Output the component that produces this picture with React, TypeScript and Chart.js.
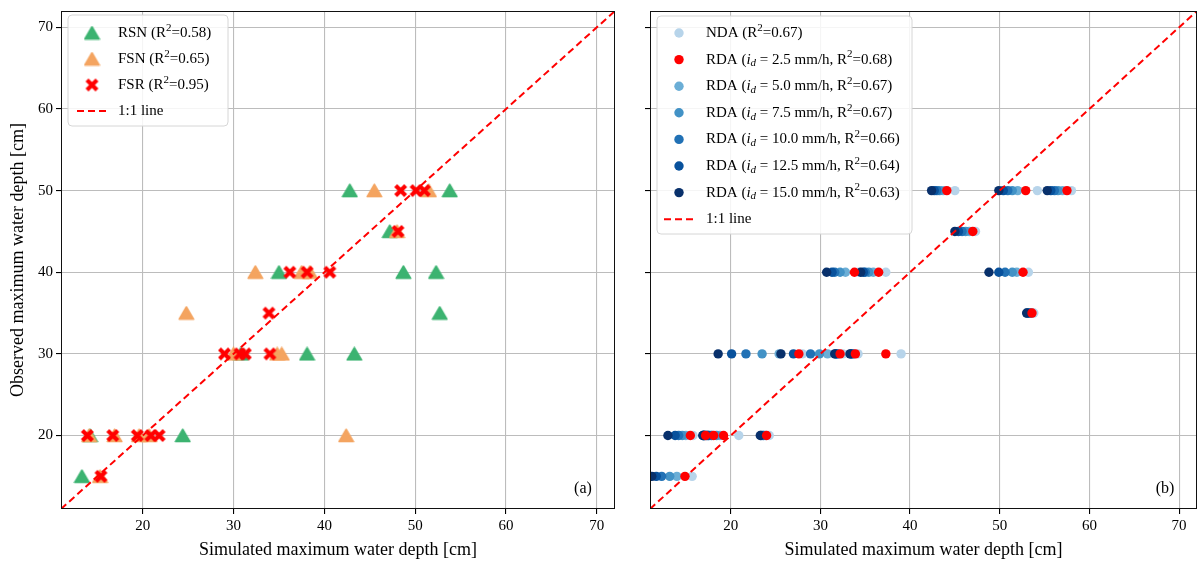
import { useEffect, useRef } from "react";
import { Chart, registerables } from "chart.js";

Chart.register(...registerables);

const FONT = "'Liberation Serif', 'Times New Roman', Times, serif";
const AXIS_MIN = 11;
const AXIS_MAX = 72;
const TICK_VALUES = [20, 30, 40, 50, 60, 70];
const X_TITLE = "Simulated maximum water depth [cm]";
const Y_TITLE = "Observed maximum water depth [cm]";

// ---------- Panel (a) ----------
const RSN_X = [13.3, 14.2, 24.4, 30.8, 38.1, 43.3, 52.7, 35.0, 48.7, 52.3, 47.2, 42.8, 53.8];
const RSN_Y = [15, 20, 20, 30, 30, 30, 35, 40, 40, 40, 45, 50, 50];
const FSN_X = [15.3, 14.1, 16.9, 19.6, 20.7, 42.4, 30.0, 34.8, 35.3, 24.8, 32.4, 37.5, 38.4, 48.0, 45.5, 51.5];
const FSN_Y = [15, 20, 20, 20, 20, 20, 30, 30, 30, 35, 40, 40, 40, 45, 50, 50];
const FSR_X = [15.4, 13.9, 16.7, 19.4, 20.9, 21.8, 29.0, 30.7, 31.3, 34.0, 33.9, 36.2, 38.1, 40.6, 48.1, 48.4, 50.1, 51.0];
const FSR_Y = [15, 20, 20, 20, 20, 20, 30, 30, 30, 30, 35, 40, 40, 40, 45, 50, 50, 50];

// ---------- Panel (b) ----------
const OBS_B = [15, 20, 20, 20, 20, 20, 30, 30, 30, 30, 35, 40, 40, 40, 45, 50, 50, 50];
const NDA = [15.7, 24.3, 20.9, 18.5, 17.5, 15.8, 39.0, 28.0, 32.5, 34.2, 53.8, 34.3, 37.3, 53.2, 47.3, 45.0, 54.2, 58.0];
const RDA_2_5 = [14.9, 24.0, 19.2, 18.1, 17.2, 15.5, 37.3, 27.6, 32.2, 33.9, 53.6, 33.8, 36.5, 52.6, 47.0, 44.1, 52.9, 57.5];
const RDA_5_0 = [14.0, 23.9, 18.8, 17.8, 17.1, 15.0, 30.8, 25.4, 32.0, 33.7, 53.5, 32.8, 35.9, 51.9, 46.6, 43.7, 52.0, 57.0];
const RDA_7_5 = [13.2, 23.7, 18.4, 17.6, 17.0, 14.6, 29.9, 23.5, 31.9, 33.6, 53.4, 32.2, 35.4, 51.4, 46.2, 43.3, 51.4, 56.5];
const RDA_10_0 = [12.3, 23.6, 17.9, 17.4, 17.0, 14.2, 28.9, 21.7, 31.8, 33.5, 53.3, 31.6, 35.0, 50.6, 45.8, 43.0, 50.9, 56.1];
const RDA_12_5 = [11.7, 23.4, 17.5, 17.3, 16.9, 13.8, 27.0, 20.1, 31.7, 33.4, 53.1, 31.3, 34.8, 49.9, 45.4, 42.7, 50.4, 55.7];
const RDA_15_0 = [11.2, 23.3, 17.0, 17.1, 16.9, 13.0, 25.6, 18.6, 31.6, 33.3, 53.0, 30.7, 34.5, 48.8, 45.0, 42.4, 49.9, 55.3];

const ONE_TO_ONE = [AXIS_MIN, AXIS_MAX];

const C_RSN = "#3cb371";
const C_FSN = "#f4a460";
const C_FSR = "#ff0000";
const C_NDA = "#b7d4ea";
const C_RDA = ["#ff0000", "#6baed6", "#4292c6", "#2171b5", "#08519c", "#08306b"];

type Part = { t: string; it?: boolean; sub?: boolean; sup?: boolean };
type LegendItem = { kind: string; color: string; parts: Part[] };

const pts = (xs: number[], ys: number[]) => xs.map((x, i) => ({ x, y: ys[i] }));

function makeTriangle(color: string) {
  const c = document.createElement("canvas");
  c.width = 17;
  c.height = 15;
  const g = c.getContext("2d")!;
  g.fillStyle = color;
  g.strokeStyle = color;
  g.lineJoin = "round";
  g.lineWidth = 1.5;
  g.beginPath();
  g.moveTo(8.5, 1.2);
  g.lineTo(15.8, 13.6);
  g.lineTo(1.2, 13.6);
  g.closePath();
  g.fill();
  g.stroke();
  return c;
}

function makeX(color: string) {
  const c = document.createElement("canvas");
  c.width = 15;
  c.height = 15;
  const g = c.getContext("2d")!;
  g.strokeStyle = color;
  g.lineWidth = 4.2;
  g.lineCap = "butt";
  g.beginPath();
  g.moveTo(2.5, 2.5);
  g.lineTo(12.5, 12.5);
  g.moveTo(12.5, 2.5);
  g.lineTo(2.5, 12.5);
  g.stroke();
  return c;
}

function drawLegendMarker(ctx: CanvasRenderingContext2D, item: LegendItem, mx: number, cy: number, marker: any) {
  if (item.kind === "dash") {
    ctx.save();
    ctx.strokeStyle = item.color;
    ctx.lineWidth = 2;
    ctx.setLineDash([7, 4]);
    ctx.beginPath();
    ctx.moveTo(mx - 15, cy);
    ctx.lineTo(mx + 15, cy);
    ctx.stroke();
    ctx.restore();
  } else if (item.kind === "circle") {
    ctx.fillStyle = item.color;
    ctx.beginPath();
    ctx.arc(mx, cy, 4.7, 0, Math.PI * 2);
    ctx.fill();
  } else if (marker) {
    ctx.drawImage(marker, mx - marker.width / 2, cy - marker.height / 2);
  }
}

function legendPlugin(items: LegendItem[], markers: any[], o: any) {
  return {
    id: "customLegend",
    afterDraw(chart: any) {
      const { ctx, chartArea } = chart;
      const x0 = chartArea.left + o.dx;
      const y0 = chartArea.top + o.dy;
      ctx.save();
      ctx.beginPath();
      const r = 4;
      ctx.moveTo(x0 + r, y0);
      ctx.arcTo(x0 + o.w, y0, x0 + o.w, y0 + o.h, r);
      ctx.arcTo(x0 + o.w, y0 + o.h, x0, y0 + o.h, r);
      ctx.arcTo(x0, y0 + o.h, x0, y0, r);
      ctx.arcTo(x0, y0, x0 + o.w, y0, r);
      ctx.closePath();
      ctx.fillStyle = "rgba(255,255,255,0.85)";
      ctx.fill();
      ctx.strokeStyle = "#d6d6d6";
      ctx.lineWidth = 1;
      ctx.stroke();
      items.forEach((it, i) => {
        const cy = y0 + o.firstRow + i * o.rowH;
        drawLegendMarker(ctx, it, x0 + o.markerX, cy, markers[i]);
        let tx = x0 + o.textX;
        ctx.fillStyle = "#000";
        ctx.textBaseline = "middle";
        ctx.textAlign = "left";
        for (const p of it.parts) {
          const size = p.sub || p.sup ? 11 : 15;
          ctx.font = `${p.it ? "italic " : ""}${size}px ${FONT}`;
          const yy = cy + (p.sup ? -5 : p.sub ? 4 : 0);
          ctx.fillText(p.t, tx, yy);
          tx += ctx.measureText(p.t).width;
        }
      });
      ctx.restore();
    },
  };
}

function framePlugin(label: string) {
  return {
    id: "frame",
    afterDatasetsDraw(chart: any) {
      const { ctx, chartArea } = chart;
      ctx.save();
      ctx.strokeStyle = "#111";
      ctx.lineWidth = 1;
      ctx.strokeRect(
        Math.round(chartArea.left) + 0.5,
        Math.round(chartArea.top) + 0.5,
        Math.round(chartArea.right - chartArea.left) - 1,
        Math.round(chartArea.bottom - chartArea.top) - 1
      );
      ctx.fillStyle = "#000";
      ctx.font = `16px ${FONT}`;
      ctx.textAlign = "center";
      ctx.textBaseline = "middle";
      ctx.fillText(label, chartArea.right - 32, chartArea.bottom - 20);
      ctx.restore();
    },
  };
}

function scaleOptions(showYLabels: boolean, yWidth: number) {
  const grid = { color: "#bcbcbc", lineWidth: 1.1, tickColor: "#000", tickLength: 5, drawTicks: true };
  return {
    x: {
      type: "linear",
      min: AXIS_MIN,
      max: AXIS_MAX,
      afterBuildTicks: (s: any) => {
        s.ticks = TICK_VALUES.map((v) => ({ value: v }));
      },
      grid,
      border: { display: false },
      ticks: { font: { family: FONT, size: 15 }, color: "#000", padding: 3, maxRotation: 0 },
      title: { display: true, text: X_TITLE, font: { family: FONT, size: 18 }, color: "#000", padding: { top: 2, bottom: 2 } },
      afterFit: (s: any) => {
        s.height = 54;
        s.paddingLeft = 0;
        s.paddingRight = 0;
      },
    },
    y: {
      type: "linear",
      min: AXIS_MIN,
      max: AXIS_MAX,
      afterBuildTicks: (s: any) => {
        s.ticks = TICK_VALUES.map((v) => ({ value: v }));
      },
      grid,
      border: { display: false },
      ticks: { display: showYLabels, font: { family: FONT, size: 15 }, color: "#000", padding: 3 },
      title: { display: showYLabels, text: Y_TITLE, font: { family: FONT, size: 18 }, color: "#000", padding: { top: 7, bottom: 0 } },
      afterFit: (s: any) => {
        s.width = yWidth;
        s.paddingTop = 0;
        s.paddingBottom = 0;
      },
    },
  };
}

const lineDataset = (order: number) => ({
  label: "1:1 line",
  data: pts(ONE_TO_ONE, ONE_TO_ONE),
  showLine: true,
  borderColor: "#ff0000",
  borderWidth: 2,
  borderDash: [7, 4],
  pointRadius: 0,
  order,
});

export default function App() {
  const refA = useRef<HTMLCanvasElement>(null);
  const refB = useRef<HTMLCanvasElement>(null);

  useEffect(() => {
    const triG = makeTriangle(C_RSN);
    const triO = makeTriangle(C_FSN);
    const xR = makeX(C_FSR);

    const itemsA: LegendItem[] = [
      { kind: "img", color: C_RSN, parts: [{ t: "RSN (R" }, { t: "2", sup: true }, { t: "=0.58)" }] },
      { kind: "img", color: C_FSN, parts: [{ t: "FSN (R" }, { t: "2", sup: true }, { t: "=0.65)" }] },
      { kind: "img", color: C_FSR, parts: [{ t: "FSR (R" }, { t: "2", sup: true }, { t: "=0.95)" }] },
      { kind: "dash", color: "#ff0000", parts: [{ t: "1:1 line" }] },
    ];

    const chartA = new Chart(refA.current!, {
      type: "scatter",
      data: {
        datasets: [
          { label: "RSN", data: pts(RSN_X, RSN_Y), pointStyle: triG, pointRadius: 8, backgroundColor: C_RSN, order: 3 },
          { label: "FSN", data: pts(FSN_X, FSN_Y), pointStyle: triO, pointRadius: 8, backgroundColor: C_FSN, order: 2 },
          { label: "FSR", data: pts(FSR_X, FSR_Y), pointStyle: xR, pointRadius: 8, backgroundColor: C_FSR, order: 1 },
          lineDataset(0),
        ] as any,
      },
      options: {
        animation: false,
        responsive: false,
        maintainAspectRatio: false,
        events: [],
        layout: { autoPadding: false, padding: { top: 11, right: 5, bottom: 0, left: 0 } },
        plugins: { legend: { display: false }, tooltip: { enabled: false } },
        scales: scaleOptions(true, 61) as any,
      },
      plugins: [
        framePlugin("(a)"),
        legendPlugin(itemsA, [triG, triO, xR, null], { dx: 7, dy: 4, w: 160, h: 111, firstRow: 18, rowH: 26, markerX: 24, textX: 50 }),
      ],
    });

    const rdaSeries = [RDA_2_5, RDA_5_0, RDA_7_5, RDA_10_0, RDA_12_5, RDA_15_0];
    const rdaLabels = ["2.5", "5.0", "7.5", "10.0", "12.5", "15.0"];
    const rdaR2 = ["0.68", "0.67", "0.67", "0.66", "0.64", "0.63"];
    const rdaOrder = [1, 6, 5, 4, 3, 2];

    const itemsB: LegendItem[] = [
      { kind: "circle", color: C_NDA, parts: [{ t: "NDA (R" }, { t: "2", sup: true }, { t: "=0.67)" }] },
      ...rdaLabels.map((l, i) => ({
        kind: "circle",
        color: C_RDA[i],
        parts: [
          { t: "RDA (" },
          { t: "i", it: true },
          { t: "d", it: true, sub: true },
          { t: ` = ${l} mm/h, R` },
          { t: "2", sup: true },
          { t: `=${rdaR2[i]})` },
        ],
      })),
      { kind: "dash", color: "#ff0000", parts: [{ t: "1:1 line" }] },
    ];

    const chartB = new Chart(refB.current!, {
      type: "scatter",
      data: {
        datasets: [
          { label: "NDA", data: pts(NDA, OBS_B), pointStyle: "circle", pointRadius: 4.7, borderWidth: 0, backgroundColor: C_NDA, order: 7 },
          ...rdaSeries.map((s, i) => ({
            label: `RDA ${rdaLabels[i]}`,
            data: pts(s, OBS_B),
            pointStyle: "circle",
            pointRadius: 4.7,
            borderWidth: 0,
            backgroundColor: C_RDA[i],
            order: rdaOrder[i],
          })),
          lineDataset(0),
        ] as any,
      },
      options: {
        animation: false,
        responsive: false,
        maintainAspectRatio: false,
        events: [],
        layout: { autoPadding: false, padding: { top: 11, right: 6, bottom: 0, left: 0 } },
        plugins: { legend: { display: false }, tooltip: { enabled: false } },
        scales: scaleOptions(false, 30) as any,
      },
      plugins: [
        framePlugin("(b)"),
        legendPlugin(itemsB, [], { dx: 7, dy: 5, w: 255, h: 218, firstRow: 17, rowH: 26.6, markerX: 22, textX: 49 }),
      ],
    });

    return () => {
      chartA.destroy();
      chartB.destroy();
    };
  }, []);

  return (
    <div style={{ position: "fixed", left: 0, top: 0, width: 1203, height: 563, background: "#fff" }}>
      <canvas ref={refA} width={620} height={563} style={{ position: "absolute", left: 0, top: 0, width: 620, height: 563 }} />
      <canvas ref={refB} width={583} height={563} style={{ position: "absolute", left: 620, top: 0, width: 583, height: 563 }} />
    </div>
  );
}
